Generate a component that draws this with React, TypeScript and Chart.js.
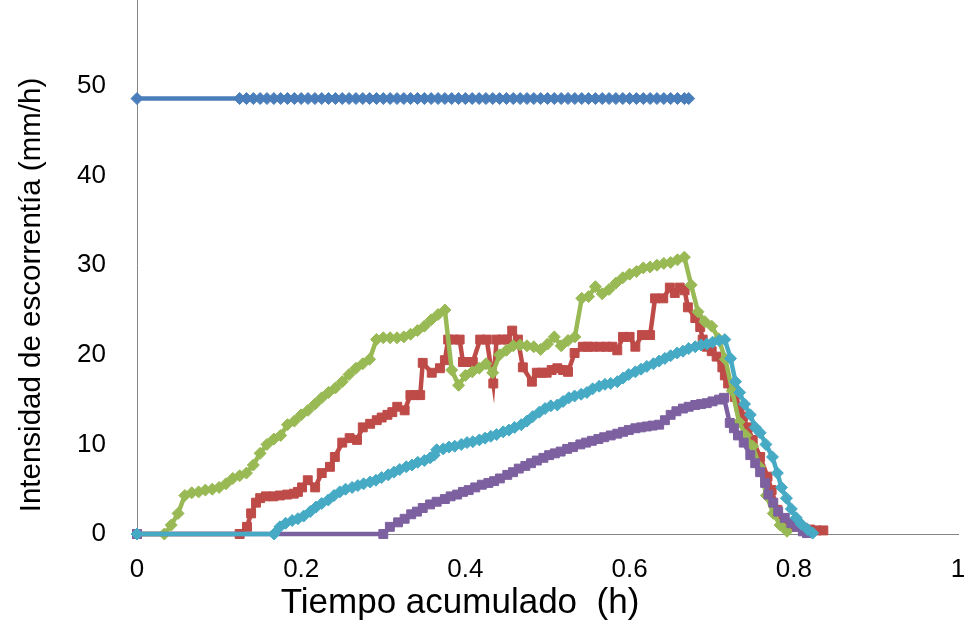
import { useEffect, useRef } from "react";
import { Chart, registerables } from "chart.js";

Chart.register(...registerables);

// Lluvia (intensidad constante)
const azul: [number, number][] = [
  [0, 48.6], [0.125, 48.6], [0.1333, 48.6], [0.1417, 48.6], [0.15, 48.6], [0.1583, 48.6], [0.1667, 48.6],
  [0.175, 48.6], [0.1833, 48.6], [0.1917, 48.6], [0.2, 48.6], [0.2083, 48.6], [0.2167, 48.6], [0.225, 48.6],
  [0.2333, 48.6], [0.2417, 48.6], [0.25, 48.6], [0.2583, 48.6], [0.2667, 48.6], [0.275, 48.6], [0.2833, 48.6],
  [0.2917, 48.6], [0.3, 48.6], [0.3083, 48.6], [0.3167, 48.6], [0.325, 48.6], [0.3333, 48.6], [0.3417, 48.6],
  [0.35, 48.6], [0.3583, 48.6], [0.3667, 48.6], [0.375, 48.6], [0.3833, 48.6], [0.3917, 48.6], [0.4, 48.6],
  [0.4083, 48.6], [0.4167, 48.6], [0.425, 48.6], [0.4333, 48.6], [0.4417, 48.6], [0.45, 48.6], [0.4583, 48.6],
  [0.4667, 48.6], [0.475, 48.6], [0.4833, 48.6], [0.4917, 48.6], [0.5, 48.6], [0.5083, 48.6], [0.5167, 48.6],
  [0.525, 48.6], [0.5333, 48.6], [0.5417, 48.6], [0.55, 48.6], [0.5583, 48.6], [0.5667, 48.6], [0.575, 48.6],
  [0.5833, 48.6], [0.5917, 48.6], [0.6, 48.6], [0.6083, 48.6], [0.6167, 48.6], [0.625, 48.6], [0.6333, 48.6],
  [0.6417, 48.6], [0.65, 48.6], [0.6583, 48.6], [0.6667, 48.6], [0.672, 48.6],
];

const rojo: [number, number][] = [
  [0, 0], [0.125, 0], [0.134, 0.8], [0.139, 2.3], [0.145, 3.5], [0.15, 4.0], [0.157, 4.2], [0.166, 4.2],
  [0.174, 4.3], [0.183, 4.4], [0.191, 4.5], [0.196, 4.7], [0.201, 5.2], [0.208, 6.0], [0.217, 5.2],
  [0.225, 6.8], [0.235, 7.5], [0.241, 8.6], [0.25, 10.2], [0.259, 10.7], [0.268, 10.5], [0.275, 11.9],
  [0.284, 12.3], [0.292, 12.7], [0.298, 13.0], [0.305, 13.3], [0.311, 13.6], [0.317, 14.2], [0.326, 13.8],
  [0.333, 15.5], [0.339, 15.5], [0.345, 15.5], [0.348, 19.1], [0.359, 18.0], [0.369, 18.5], [0.375, 19.4],
  [0.379, 21.7], [0.386, 21.7], [0.393, 21.7], [0.397, 19.2], [0.403, 19.2], [0.409, 19.2], [0.418, 21.7],
  [0.426, 21.7], [0.434, 16.8], [0.438, 21.7], [0.445, 21.7], [0.451, 21.7], [0.457, 22.7], [0.464, 21.7],
  [0.47, 18.6], [0.481, 17.0], [0.487, 18.0], [0.493, 18.0], [0.499, 18.0], [0.505, 18.3], [0.512, 18.5],
  [0.519, 18.3], [0.525, 18.1], [0.533, 20.2], [0.543, 20.9], [0.549, 20.9], [0.555, 20.9], [0.564, 20.9],
  [0.572, 20.9], [0.579, 20.9], [0.585, 20.5], [0.592, 22.0], [0.6, 22.0], [0.607, 20.9], [0.615, 22.2],
  [0.625, 22.2], [0.631, 26.3], [0.641, 26.3], [0.649, 27.5], [0.655, 26.9], [0.661, 27.5], [0.667, 27.2],
  [0.671, 25.3], [0.68, 24.1], [0.686, 23.1], [0.689, 21.7], [0.694, 20.9], [0.7, 20.4], [0.706, 19.8],
  [0.713, 18.6], [0.716, 17.7], [0.72, 16.8], [0.725, 16.3], [0.728, 15.3], [0.734, 14.2], [0.738, 13.1],
  [0.744, 11.9], [0.75, 10.5], [0.759, 8.6], [0.768, 6.4], [0.773, 4.9], [0.78, 2.7], [0.787, 1.3],
  [0.799, 0.8], [0.811, 0.7], [0.82, 0.5], [0.828, 0.4], [0.836, 0.4],
];

const verde: [number, number][] = [
  [0, 0], [0.0333, 0], [0.0417, 1.0], [0.05, 2.3], [0.0583, 4.3], [0.0667, 4.6], [0.075, 4.7], [0.0833, 4.9],
  [0.0917, 5.0], [0.1, 5.2], [0.1083, 5.6], [0.1167, 6.2], [0.125, 6.5], [0.1333, 6.8], [0.1417, 7.7],
  [0.15, 9.0], [0.1583, 10.0], [0.1667, 10.6], [0.175, 11.0], [0.1833, 12.2], [0.1917, 12.6], [0.2, 13.3],
  [0.2083, 13.8], [0.2167, 14.5], [0.225, 15.2], [0.2333, 15.8], [0.2417, 16.3], [0.25, 17.0], [0.2583, 17.8],
  [0.2667, 18.5], [0.275, 19.0], [0.2833, 19.5], [0.2917, 21.7], [0.3, 21.9], [0.3083, 21.9], [0.3167, 21.9],
  [0.325, 22.0], [0.3333, 22.3], [0.3417, 22.7], [0.35, 23.2], [0.3583, 23.9], [0.3667, 24.5], [0.375, 25.0],
  [0.3833, 18.3], [0.3917, 16.6], [0.4, 17.7], [0.4083, 18.1], [0.4167, 18.5], [0.425, 19.0], [0.4333, 18.0],
  [0.4417, 20.0], [0.45, 20.5], [0.4583, 21.0], [0.4667, 21.1], [0.475, 21.0], [0.4833, 20.9], [0.4917, 20.6],
  [0.5, 21.2], [0.5083, 22.0], [0.5167, 21.0], [0.525, 21.6], [0.5333, 22.0], [0.5417, 26.3], [0.55, 26.5],
  [0.5583, 27.6], [0.5667, 26.8], [0.575, 27.3], [0.5833, 28.0], [0.5917, 28.6], [0.6, 29.0], [0.6083, 29.3],
  [0.6167, 29.7], [0.625, 29.8], [0.6333, 30.0], [0.6417, 30.2], [0.65, 30.3], [0.6583, 30.6], [0.6667, 30.9],
  [0.675, 27.8], [0.6833, 24.8], [0.6917, 23.7], [0.7, 23.2], [0.7083, 21.8], [0.7167, 19.5], [0.725, 16.0],
  [0.7333, 12.5], [0.7417, 11.0], [0.75, 9.8], [0.7583, 7.5], [0.7667, 4.3], [0.775, 2.3], [0.7833, 1.0],
  [0.7917, 0.3],
];

const morado: [number, number][] = [
  [0, 0], [0.3, 0], [0.308, 0.8], [0.318, 1.3], [0.326, 1.7], [0.334, 2.2], [0.341, 2.5], [0.348, 2.9],
  [0.357, 3.3], [0.365, 3.6], [0.375, 3.9], [0.382, 4.2], [0.39, 4.4], [0.397, 4.7], [0.404, 4.9],
  [0.412, 5.2], [0.42, 5.5], [0.428, 5.7], [0.435, 5.9], [0.442, 6.2], [0.451, 6.6], [0.458, 6.9],
  [0.465, 7.3], [0.473, 7.6], [0.48, 7.9], [0.487, 8.2], [0.495, 8.5], [0.502, 8.8], [0.509, 9.0],
  [0.516, 9.2], [0.524, 9.5], [0.531, 9.7], [0.54, 10.0], [0.547, 10.2], [0.554, 10.4], [0.562, 10.6],
  [0.569, 10.8], [0.577, 11.0], [0.585, 11.2], [0.592, 11.4], [0.599, 11.6], [0.607, 11.8], [0.614, 11.9],
  [0.621, 12.0], [0.628, 12.1], [0.636, 12.2], [0.643, 12.7], [0.65, 13.3], [0.657, 13.7], [0.665, 14.0],
  [0.672, 14.2], [0.68, 14.4], [0.687, 14.5], [0.694, 14.6], [0.701, 14.8], [0.709, 15.0], [0.715, 15.2],
  [0.722, 12.4], [0.727, 11.8], [0.732, 11.0], [0.739, 10.2], [0.747, 8.8], [0.753, 7.9], [0.759, 6.9],
  [0.765, 5.7], [0.769, 4.4], [0.775, 3.5], [0.781, 2.5], [0.789, 1.8], [0.797, 1.2], [0.804, 0.8],
  [0.811, 0.3], [0.816, 0.1],
];

const cian: [number, number][] = [
  [0, 0], [0.167, 0], [0.174, 0.8], [0.181, 1.2], [0.189, 1.5], [0.196, 1.7], [0.203, 2.0], [0.211, 2.5],
  [0.218, 3.0], [0.225, 3.4], [0.233, 3.8], [0.24, 4.3], [0.247, 4.7], [0.254, 5.0], [0.262, 5.2],
  [0.269, 5.4], [0.276, 5.6], [0.284, 5.8], [0.291, 6.0], [0.298, 6.3], [0.306, 6.6], [0.313, 6.9],
  [0.32, 7.2], [0.328, 7.5], [0.335, 7.7], [0.342, 8.0], [0.35, 8.2], [0.357, 8.5], [0.362, 8.8],
  [0.365, 9.4], [0.373, 9.5], [0.38, 9.7], [0.387, 9.8], [0.395, 10.0], [0.402, 10.2], [0.409, 10.3],
  [0.417, 10.5], [0.424, 10.7], [0.431, 10.9], [0.438, 11.1], [0.446, 11.4], [0.453, 11.6], [0.46, 11.9],
  [0.468, 12.2], [0.475, 12.6], [0.482, 13.1], [0.49, 13.6], [0.497, 14.0], [0.504, 14.3], [0.512, 14.4],
  [0.519, 14.8], [0.526, 15.2], [0.533, 15.4], [0.541, 15.6], [0.548, 15.8], [0.555, 16.2], [0.563, 16.5],
  [0.57, 16.7], [0.577, 16.8], [0.585, 17.0], [0.592, 17.4], [0.599, 17.8], [0.607, 18.1], [0.614, 18.4],
  [0.621, 18.7], [0.629, 19.0], [0.636, 19.3], [0.643, 19.6], [0.65, 19.9], [0.658, 20.2], [0.665, 20.4],
  [0.672, 20.7], [0.68, 20.9], [0.687, 21.1], [0.694, 21.2], [0.701, 21.4], [0.709, 21.6], [0.716, 21.7],
  [0.723, 19.6], [0.729, 17.0], [0.734, 15.8], [0.74, 14.5], [0.747, 13.3], [0.753, 11.9], [0.759, 11.3],
  [0.766, 10.0], [0.774, 8.6], [0.78, 6.8], [0.785, 5.2], [0.791, 4.0], [0.797, 2.8], [0.803, 1.8],
  [0.809, 1.1], [0.817, 0.5], [0.823, 0.1],
];

const xTitulo = "Tiempo acumulado  (h)";
const yTitulo = "Intensidad de escorrentía (mm/h)";

const FONT = "'Liberation Sans', Arial, sans-serif";
const TOP_OFFSET = 40;

const titlesPlugin = {
  id: "axisTitles",
  afterDraw(chart: any) {
    const ctx = chart.ctx;
    ctx.save();
    ctx.fillStyle = "#000";
    ctx.textAlign = "center";
    ctx.textBaseline = "middle";
    ctx.font = `35px ${FONT}`;
    ctx.fillText(xTitulo, 460, 603 + TOP_OFFSET);
    ctx.translate(32, 295 + TOP_OFFSET);
    ctx.rotate(-Math.PI / 2);
    ctx.font = `29.5px ${FONT}`;
    ctx.fillText(yTitulo, 0, 0);
    ctx.restore();
  },
};

function ds(label: string, arr: [number, number][], color: string, style: string, radius: number, order: number) {
  return {
    label,
    data: arr.map(([x, y]) => ({ x, y })),
    borderColor: color,
    backgroundColor: color,
    borderWidth: 4.5,
    pointStyle: style,
    pointRadius: radius,
    pointBorderWidth: 1,
    pointBackgroundColor: color,
    pointBorderColor: color,
    tension: 0,
    clip: false,
    order,
  };
}

export default function App() {
  const ref = useRef<HTMLCanvasElement>(null);
  useEffect(() => {
    const chart = new Chart(ref.current!, {
      type: "line",
      data: {
        datasets: [
          ds("Lluvia", azul, "#4A7EBB", "rectRot", 6, 5),
          ds("Serie 2", rojo, "#BE4B48", "rect", 6.3, 4),
          ds("Serie 3", verde, "#98B954", "rectRot", 6, 3),
          ds("Serie 4", morado, "#7D60A0", "rect", 6.3, 2),
          ds("Serie 5", cian, "#46AAC5", "rectRot", 6, 1),
        ] as any,
      },
      options: {
        animation: false,
        responsive: false,
        events: [],
        layout: { padding: { top: 36.4, right: 10, left: 0, bottom: 0 } },
        plugins: { legend: { display: false }, tooltip: { enabled: false }, title: { display: false } },
        scales: {
          x: {
            type: "linear",
            min: 0,
            max: 1,
            afterFit: (s: any) => {
              s.height = 87;
              s.paddingLeft = 0;
              s.paddingRight = 0;
              s.paddingTop = 0;
              s.paddingBottom = 0;
            },
            ticks: {
              stepSize: 0.2,
              padding: 20,
              color: "#000",
              font: { family: FONT, size: 26 },
              maxRotation: 0,
              callback: (v: any) => String(Number(Number(v).toFixed(1))),
            },
            grid: { display: true, drawOnChartArea: false, drawTicks: false },
            border: { display: true, color: "#868686", width: 1 },
          },
          y: {
            type: "linear",
            min: 0,
            max: 60,
            afterFit: (s: any) => {
              s.width = 137;
              s.paddingLeft = 0;
              s.paddingRight = 0;
              s.paddingTop = 0;
              s.paddingBottom = 0;
            },
            ticks: {
              stepSize: 10,
              padding: 31,
              color: "#000",
              font: { family: FONT, size: 26 },
              callback: (v: any) => (Number(v) >= 60 ? "" : String(v)),
            },
            grid: { display: true, drawOnChartArea: false, drawTicks: false },
            border: { display: true, color: "#868686", width: 1 },
          },
        },
      } as any,
      plugins: [titlesPlugin],
    });
    return () => chart.destroy();
  }, []);
  return (
    <div style={{ position: "absolute", left: 0, top: -TOP_OFFSET, width: 968, height: 661 }}>
      <canvas ref={ref} width={968} height={661} style={{ width: 968, height: 661, display: "block" }} />
    </div>
  );
}
